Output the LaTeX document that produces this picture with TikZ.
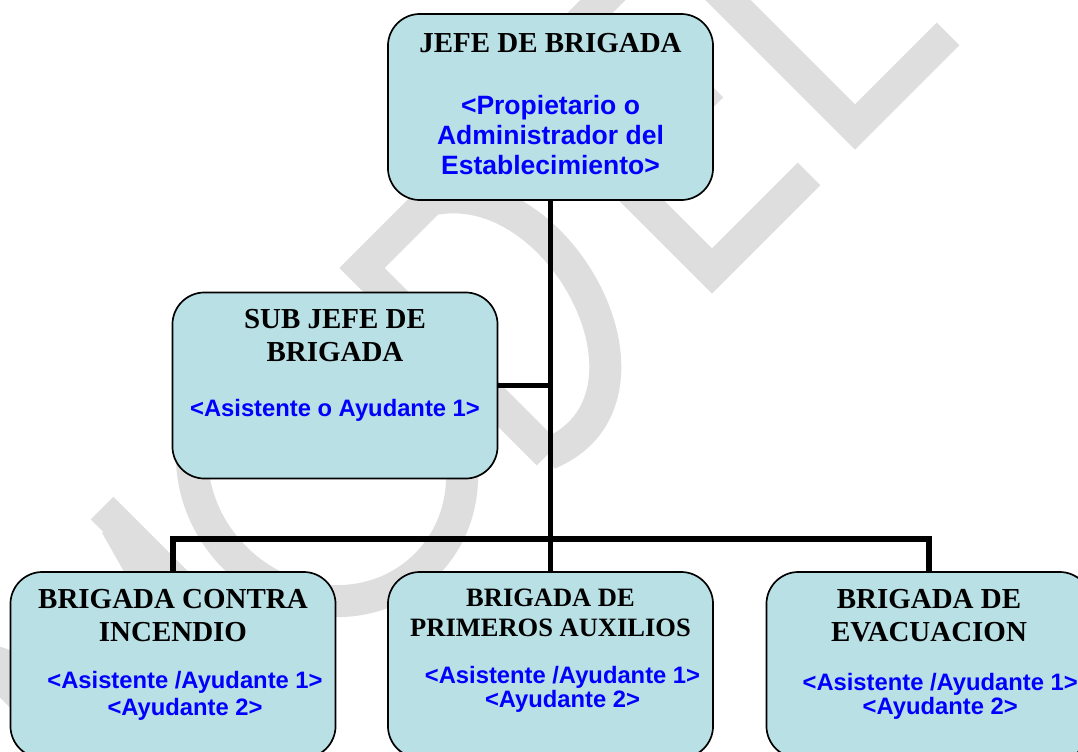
\documentclass[tikz,border=0pt]{standalone}
\usepackage{fontspec}
\setmainfont{Liberation Serif}
\newfontfamily\rolfont{Liberation Sans}
\usepackage{tikz}

\definecolor{cajaazul}{RGB}{185,224,228}
\definecolor{azulrol}{RGB}{0,0,255}

\tikzset{
  cargo/.style={draw, line width=1.2pt, fill=cajaazul, rounded corners=0.8cm,
    minimum width=8.125cm, minimum height=4.65cm, inner sep=0pt},
  titulo/.style={anchor=north, align=center, inner sep=0pt,
    font=\bfseries\fontsize{20.6}{23.8}\selectfont},
  rol/.style={anchor=north, align=center, inner sep=0pt, text=azulrol,
    font=\rolfont\bfseries\fontsize{16.9}{17.3}\selectfont},
  enlace/.style={line width=3.9pt},
  marca/.style={draw=black!13, line width=0.8cm, line join=miter},
}

\begin{document}
\begin{tikzpicture}[x=0.025cm,y=-0.025cm]
\useasboundingbox (0,0) rectangle (1078,751);
\clip (0,0) rectangle (1078,751);

% watermark
\draw[marca] (172,847) -- (-18,657);
\draw[marca] (-10,660) -- (242,748) -- (116,525);
\draw[marca] (102,508) -- (292,698);
\draw[marca, rotate around={45:(327,466)}] (327,466) ellipse [x radius=130, y radius=140];
\draw[marca] (548,454) -- (362,268) -- (430,200) .. controls (560,170) and (680,400) .. (548,454);
\draw[marca] (809,174) -- (712,271) -- (522,81) -- (619,-16);
\draw[marca] (619,178) -- (712,86);
\draw[marca] (665,-63) -- (855,127) -- (948,34);

% boxes
\node[cargo] (jefe) at (550.5,107) {};
\node[cargo] (subjefe) at (335,385.5) {};
\node[cargo] (incendio) at (173,665) {};
\node[cargo] (auxilios) at (550.5,665) {};
\node[cargo] (evacuacion) at (929,665) {};

% connectors
\coordinate (bus) at (550.5,539);
\draw[enlace] (jefe.south) -- (auxilios.north);
\draw[enlace] (incendio.north) |- (bus) -| (evacuacion.north);
\draw[enlace] (subjefe.east) -- (subjefe.east -| jefe.south);

% texts
\node[titulo] (jefe-t) at ([yshift=-0.5cm]jefe.north) {JEFE DE BRIGADA};
\node[rol, font=\rolfont\bfseries\fontsize{18.85}{21.3}\selectfont] (jefe-r)
  at ([yshift=-2.05cm]jefe.north) {<Propietario o\\Administrador del\\Establecimiento>};

\node[titulo, font=\bfseries\fontsize{20.6}{23.5}\selectfont] (subjefe-t)
  at ([yshift=-0.445cm]subjefe.north) {SUB JEFE DE\\BRIGADA};
\node[rol] (subjefe-r) at ([yshift=-2.675cm]subjefe.north) {<Asistente o Ayudante 1>};

\node[titulo] (incendio-t) at ([yshift=-0.445cm]incendio.north) {BRIGADA CONTRA\\INCENDIO};
\node[rol, font=\rolfont\bfseries\fontsize{16.9}{19}\selectfont] (incendio-r)
  at ([xshift=0.3cm,yshift=-2.5cm]incendio.north) {<Asistente /Ayudante 1>\\<Ayudante 2>};

\node[titulo, font=\bfseries\fontsize{18.85}{21.3}\selectfont] (auxilios-t)
  at ([yshift=-0.44cm]auxilios.north) {BRIGADA DE\\PRIMEROS AUXILIOS};
\node[rol] (auxilios-r) at ([xshift=0.3cm,yshift=-2.375cm]auxilios.north) {<Asistente /Ayudante 1>\\<Ayudante 2>};

\node[titulo] (evacuacion-t) at ([yshift=-0.445cm]evacuacion.north) {BRIGADA DE\\EVACUACION};
\node[rol] (evacuacion-r) at ([xshift=0.28cm,yshift=-2.55cm]evacuacion.north) {<Asistente /Ayudante 1>\\<Ayudante 2>};
\end{tikzpicture}
\end{document}
